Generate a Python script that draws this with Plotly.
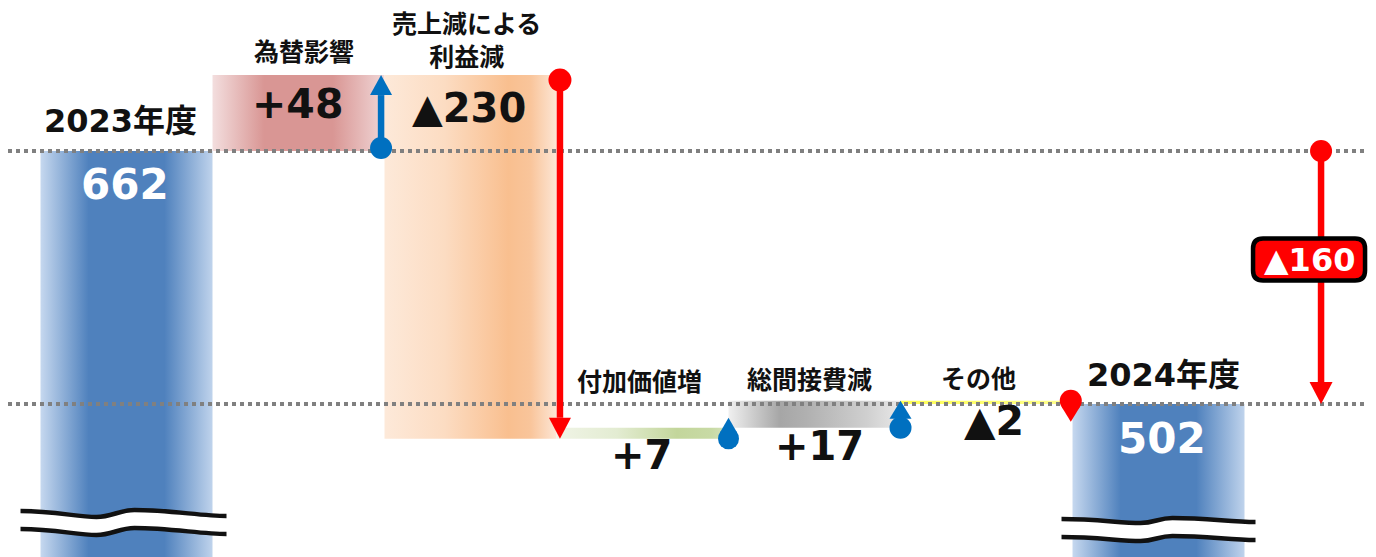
import math
import plotly.graph_objects as go

# ---------------- data ----------------
categories = ["2023年度", "為替影響", "売上減による<br>利益減", "付加価値増", "総間接費減", "その他", "2024年度"]
start_value = 662
deltas = [48, -230, 7, 17, -2]
end_value = 502
value_labels = ["662", "+48", "▲230", "+7", "+17", "▲2", "502"]
total_change_label = "▲160"

# ---------------- layout constants ----------------
# the page body has an 8px default margin, so the figure is sized to fit the window
W, H = 1368, 549
X_RANGE = [-0.6890, 7.2645]
Y_RANGE = [405.24, 752.43]
YPP = (Y_RANGE[1] - Y_RANGE[0]) / H          # data units per pixel (y)
FONT = "DejaVu Sans, Noto Sans CJK JP, sans-serif"
BLUE = "#0070c0"
RED = "#ff0000"
TXT = "#111111"

# cumulative levels derived from the data
levels = [start_value]
for d in deltas:
    levels.append(levels[-1] + d)

n = len(categories)
bar_lo, bar_hi = [], []
for i in range(n):
    if i == 0:
        bar_lo.append(0); bar_hi.append(start_value)
    elif i == n - 1:
        bar_lo.append(0); bar_hi.append(end_value)
    else:
        bar_lo.append(min(levels[i - 1], levels[i])); bar_hi.append(max(levels[i - 1], levels[i]))

blue_cs = [[0, "#c6d8ef"], [0.28, "#4f81bd"], [0.72, "#4f81bd"], [1, "#bfd3ec"]]
gradients = [
    blue_cs,
    [[0, "#f3dede"], [0.3, "#d99694"], [0.7, "#d99694"], [1, "#f0d6d6"]],
    [[0, "#fde9d9"], [0.35, "#fcdcc2"], [0.72, "#f9bf8f"], [0.85, "#f9c59b"], [1, "#fde6d5"]],
    [[0, "#f0f4e6"], [0.35, "#e3ecd2"], [0.7, "#c3d69b"], [0.9, "#c8daa5"], [1, "#d6e3bd"]],
    [[0, "#f0f0f0"], [0.3, "#a6a6a6"], [0.45, "#b0b0b0"], [0.8, "#cfcfcf"], [1, "#e8e8e8"]],
    [[0, "#ffff55"], [0.5, "#ffff70"], [1, "#ffff90"]],
    blue_cs,
]

fig = go.Figure()
BW = 1.0
for i in range(n):
    x0, x1 = i - BW / 2, i + BW / 2
    fig.add_trace(go.Scatter(
        x=[x0, x1, x1, x0, x0],
        y=[bar_lo[i], bar_lo[i], bar_hi[i], bar_hi[i], bar_lo[i]],
        mode="lines", line=dict(width=0), fill="toself",
        fillgradient=dict(type="horizontal", colorscale=gradients[i]),
        hoverinfo="skip", showlegend=False,
    ))

shapes = []

# dotted reference lines
for v in (start_value, end_value):
    shapes.append(dict(type="line", xref="paper", yref="y", x0=0, x1=1, y0=v, y1=v,
                       line=dict(color="#808080", width=4, dash="dot")))

# axis-break marks (pixel paths anchored at bar centre / axis bottom)
def wave(pts, dy):
    return [(p[0], p[1] + dy) for p in pts]

def break_shapes(xc, base_px, top_pts, c, gap=18):
    def seg_path(pts):
        p0, p1, p2, p3 = pts
        s = f"M {p0[0]},{p0[1]} "
        s += f"C {p0[0]+c[0]},{p0[1]} {p1[0]-c[1]},{p1[1]} {p1[0]},{p1[1]} "
        s += f"C {p1[0]+c[2]},{p1[1]} {p2[0]-c[2]},{p2[1]} {p2[0]},{p2[1]} "
        s += f"C {p2[0]+c[3]},{p2[1]} {p3[0]-c[4]},{p3[1]} {p3[0]},{p3[1]}"
        return s
    def seg_path_rev(pts):
        p0, p1, p2, p3 = pts
        s = f"L {p3[0]},{p3[1]} "
        s += f"C {p3[0]-c[4]},{p3[1]} {p2[0]+c[3]},{p2[1]} {p2[0]},{p2[1]} "
        s += f"C {p2[0]-c[2]},{p2[1]} {p1[0]+c[2]},{p1[1]} {p1[0]},{p1[1]} "
        s += f"C {p1[0]-c[1]},{p1[1]} {p0[0]+c[0]},{p0[1]} {p0[0]},{p0[1]} Z"
        return s
    top = wave(top_pts, base_px)
    bot = wave(top_pts, base_px - gap)
    common = dict(xref="x", yref="y", xsizemode="pixel", ysizemode="pixel",
                  xanchor=xc, yanchor=Y_RANGE[0])
    out = [dict(type="path", path=seg_path(top) + " " + seg_path_rev(bot),
                fillcolor="white", line=dict(width=0), **common)]
    for pts in (top, bot):
        out.append(dict(type="path", path=seg_path(pts), line=dict(color="#111111", width=4.5), **common))
    return out

shapes += break_shapes(0, 35, [(-106, 11), (-30, 5), (8, 12), (100, 6)], [35, 20, 15, 35, 25])
shapes += break_shapes(n - 1, 28, [(-97, 10), (-18, 6), (14, 11), (97, 7)], [35, 20, 14, 35, 25])

# arrows / markers
def circle(x, y, r, color, dy=0):
    return dict(type="circle", xref="x", yref="y", xsizemode="pixel", ysizemode="pixel",
                xanchor=x, yanchor=y, x0=-r, x1=r, y0=-r + dy, y1=r + dy,
                fillcolor=color, line=dict(width=0))

def pix_path(x, y, path, color):
    return dict(type="path", xref="x", yref="y", xsizemode="pixel", ysizemode="pixel",
                xanchor=x, yanchor=y, path=path, fillcolor=color, line=dict(width=0))

def arrow(x, base, tip, color, head_w=11, head_h=20, r=11, width=6.5, cdy=0):
    sgn = 1 if tip > base else -1
    shaft_end = tip - sgn * head_h * YPP
    s = [dict(type="line", xref="x", yref="y", x0=x, x1=x, y0=base, y1=shaft_end,
              line=dict(color=color, width=width))]
    s.append(pix_path(x, tip, f"M 0,0 L {-head_w},{-sgn*head_h} L {head_w},{-sgn*head_h} Z", color))
    s.append(circle(x, base, r, color, dy=cdy))
    return s

def drop(x, base, up, color, r=10.5, d=21):
    k = math.sqrt(d * d - r * r)
    tx = r * k / d
    ty = r * r / d
    sg = 1 if up else -1
    return [pix_path(x, base, f"M 0,{sg*d} L {-tx:.2f},{sg*ty:.2f} L {tx:.2f},{sg*ty:.2f} Z", color),
            circle(x, base, r, color)]

shapes += arrow(1.48, levels[0], levels[1], BLUE, head_w=11, head_h=20, r=11, cdy=3)
shapes += arrow(2.52, levels[1], levels[2], RED, head_w=11, head_h=21, r=11.5, cdy=-5)
shapes += drop(3.5, levels[2], True, BLUE, r=10.5, d=21)
shapes += arrow(4.5, levels[3], levels[4], BLUE, head_w=11, head_h=18, r=11)
shapes += drop(5.49, levels[4], False, RED, r=11, d=21)

X_TOTAL = 6.945
mid = (start_value + end_value) / 2
shapes += arrow(X_TOTAL, start_value, end_value, RED, head_w=11.5, head_h=22, r=11)

# rounded label box for the total change
bx0, bx1, by0, by1, rr = -68, 44, -3, 39, 10
box = (f"M {bx0+rr},{by0} L {bx1-rr},{by0} Q {bx1},{by0} {bx1},{by0+rr} "
       f"L {bx1},{by1-rr} Q {bx1},{by1} {bx1-rr},{by1} L {bx0+rr},{by1} "
       f"Q {bx0},{by1} {bx0},{by1-rr} L {bx0},{by0+rr} Q {bx0},{by0} {bx0+rr},{by0} Z")
shapes.append(dict(type="path", xref="x", yref="y", xsizemode="pixel", ysizemode="pixel",
                   xanchor=X_TOTAL, yanchor=mid, path=box, fillcolor=RED,
                   line=dict(color="black", width=4.5)))

# ---------------- text ----------------
def ann(x, y, text, size, color=TXT, yshift=0, xshift=0):
    return dict(x=x, y=y, xref="x", yref="y", text=text, showarrow=False,
                font=dict(family=FONT, size=size, color=color, weight="bold"),
                xanchor="center", yanchor="middle", yshift=yshift, xshift=xshift)

annotations = []
# category labels: (anchor value, yshift, xshift, size)
cat_pos = [
    (bar_hi[0], 30, -6, 32),
    (bar_hi[1], 23, 5, 25),
    (bar_hi[2], 34, -4, 25),
    (bar_hi[3], 45, -3, 25),
    (bar_hi[4], 20, -5, 25),
    (bar_hi[5], 21, -8, 25),
    (bar_hi[6], 29, 5, 32),
]
for i, (yv, ys, xs, sz) in enumerate(cat_pos):
    annotations.append(ann(i, yv, categories[i], sz, yshift=ys, xshift=xs))

val_pos = [
    (bar_hi[0], -34, -2, 42, "white"),
    (bar_hi[1], -29, -1, 41, TXT),
    (bar_hi[2], -33, -2, 40, TXT),
    (bar_lo[3], -16, -1, 40, TXT),
    (bar_lo[4], -18, 5, 40, TXT),
    (bar_lo[5], -17, 7, 41, TXT),
    (bar_hi[6], -34, 3, 42, "white"),
]
for i, (yv, ys, xs, sz, col) in enumerate(val_pos):
    annotations.append(ann(i, yv, value_labels[i], sz, color=col, yshift=ys, xshift=xs))

annotations.append(ann(X_TOTAL, mid, total_change_label, 32, color="white", yshift=18, xshift=-12))

fig.update_layout(
    width=W, height=H,
    margin=dict(l=0, r=0, t=0, b=0),
    paper_bgcolor="white", plot_bgcolor="white",
    xaxis=dict(range=X_RANGE, visible=False, fixedrange=True),
    yaxis=dict(range=Y_RANGE, visible=False, fixedrange=True),
    shapes=shapes, annotations=annotations,
    showlegend=False,
)

fig.write_html("out.html")
